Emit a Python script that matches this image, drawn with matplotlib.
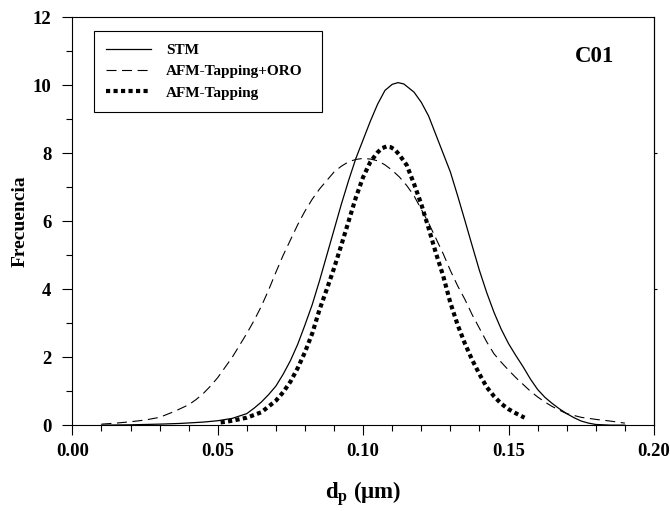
import matplotlib
matplotlib.use('Agg')
import matplotlib.pyplot as plt

plt.rcParams['font.family'] = ['Liberation Serif', 'DejaVu Serif']
plt.rcParams['font.weight'] = 'bold'
plt.rcParams['mathtext.fontset'] = 'custom'
plt.rcParams['mathtext.rm'] = 'Liberation Serif:bold'
plt.rcParams['mathtext.it'] = 'Liberation Serif:bold'
plt.rcParams['mathtext.bf'] = 'Liberation Serif:bold'

# diametro de particula (um) y frecuencia
stm_x = [0.010, 0.020, 0.030, 0.037, 0.045, 0.050, 0.055, 0.060, 0.0625, 0.065,
         0.0675, 0.070, 0.0725, 0.075, 0.0775, 0.080, 0.0825, 0.085, 0.0875, 0.090,
         0.0925, 0.095, 0.0975, 0.100, 0.1025, 0.105, 0.1075, 0.110, 0.112, 0.114,
         0.1175, 0.120, 0.1225, 0.125, 0.1275, 0.130, 0.1325, 0.135, 0.1375, 0.140,
         0.1425, 0.145, 0.1475, 0.150, 0.1525, 0.155, 0.1575, 0.160, 0.1625, 0.165,
         0.1675, 0.170, 0.1725, 0.175, 0.1775, 0.180, 0.185, 0.190]
stm_y = [0.00, 0.01, 0.03, 0.05, 0.09, 0.13, 0.20, 0.34, 0.50, 0.68,
         0.90, 1.15, 1.50, 1.90, 2.38, 2.95, 3.55, 4.25, 5.00, 5.75,
         6.50, 7.20, 7.85, 8.40, 8.95, 9.45, 9.85, 10.03, 10.08, 10.04,
         9.80, 9.50, 9.10, 8.55, 8.00, 7.45, 6.75, 6.02, 5.28, 4.55,
         3.90, 3.32, 2.82, 2.40, 2.05, 1.72, 1.36, 1.05, 0.82, 0.64,
         0.48, 0.34, 0.22, 0.12, 0.06, 0.02, 0.00, 0.00]

oro_x = [0.010, 0.015, 0.020, 0.025, 0.030, 0.035, 0.040, 0.0425, 0.045, 0.0475,
         0.050, 0.0525, 0.055, 0.0575, 0.060, 0.0625, 0.065, 0.0675, 0.070, 0.0725,
         0.075, 0.0775, 0.080, 0.0825, 0.085, 0.0875, 0.090, 0.0925, 0.095, 0.0975,
         0.100, 0.1025, 0.105, 0.1075, 0.110, 0.1125, 0.115, 0.1175, 0.120, 0.1225,
         0.125, 0.1275, 0.130, 0.1325, 0.135, 0.1375, 0.140, 0.1425, 0.145, 0.1475,
         0.150, 0.1525, 0.155, 0.1575, 0.160, 0.1625, 0.165, 0.1675, 0.170, 0.175,
         0.180, 0.185, 0.190]
oro_y = [0.03, 0.06, 0.10, 0.15, 0.23, 0.40, 0.60, 0.75, 0.93, 1.15,
         1.40, 1.70, 2.00, 2.35, 2.70, 3.08, 3.50, 3.98, 4.50, 5.00,
         5.45, 5.90, 6.30, 6.65, 6.95, 7.20, 7.45, 7.62, 7.75, 7.82,
         7.85, 7.83, 7.78, 7.66, 7.50, 7.30, 7.05, 6.75, 6.35, 5.95,
         5.50, 5.05, 4.55, 4.10, 3.70, 3.25, 2.85, 2.45, 2.10, 1.85,
         1.62, 1.40, 1.20, 1.00, 0.83, 0.68, 0.55, 0.44, 0.34, 0.23,
         0.17, 0.12, 0.06]

tap_x = [0.051, 0.055, 0.060, 0.065, 0.070, 0.0725, 0.075, 0.0775, 0.080, 0.0825,
         0.085, 0.0875, 0.090, 0.0925, 0.095, 0.0975, 0.100, 0.1025, 0.105, 0.1065,
         0.108, 0.1095, 0.111, 0.1125, 0.115, 0.1175, 0.120, 0.1225, 0.125, 0.1275,
         0.130, 0.1325, 0.135, 0.1375, 0.140, 0.1425, 0.145, 0.1475, 0.150, 0.1525,
         0.1555]
tap_y = [0.08, 0.13, 0.22, 0.38, 0.72, 0.97, 1.28, 1.68, 2.15, 2.70,
         3.40, 4.00, 4.62, 5.30, 6.00, 6.70, 7.30, 7.75, 8.03, 8.15,
         8.20, 8.18, 8.10, 7.95, 7.65, 7.10, 6.50, 5.80, 5.07, 4.40,
         3.60, 2.95, 2.40, 1.92, 1.50, 1.12, 0.85, 0.63, 0.47, 0.35,
         0.22]

fig = plt.figure(figsize=(6.70, 5.11), dpi=100)
ax = fig.add_axes([0.108, 0.168, 0.868, 0.798])

ax.plot(stm_x, stm_y, color='black', lw=0.9, label='STM')
ax.plot(oro_x, oro_y, color='black', lw=0.8, linestyle=(0, (9, 5)),
        label='AFM-Tapping+ORO')
ax.plot(tap_x, tap_y, color='black', lw=3.0, linestyle=(0, (1, 0.8)),
        label='AFM-Tapping')

ax.set_xlim(0, 0.20)
ax.set_ylim(0, 12)
ax.set_xticks([0.00, 0.05, 0.10, 0.15, 0.20])
ax.set_xticklabels(['0.00', '0.05', '0.10', '0.15', '0.20'])
ax.set_xticks([i / 100 for i in range(1, 20)], minor=True)
ax.set_yticks(range(0, 13, 2))
ax.set_yticks(range(1, 13, 2), minor=True)
ax.tick_params(axis='x', which='major', length=7.5, width=0.8, direction='out',
               labelsize=13.5, pad=5, top=False)
ax.tick_params(axis='y', which='major', length=7.5, width=0.8, direction='out',
               labelsize=13.5, pad=7.5, right=False)
ax.tick_params(which='minor', length=4.5, width=0.8, direction='out',
               top=False, right=False)
for lbl in ax.get_xticklabels() + ax.get_yticklabels():
    lbl.set_fontweight('bold')
for s in ax.spines.values():
    s.set_linewidth(0.8)

sec = ax.secondary_yaxis('right')
sec.set_yticks([4, 8])
sec.set_yticklabels(['', ''])
sec.tick_params(length=2.5, width=0.8, direction='out')
sec.spines['right'].set_linewidth(0.8)

ax.set_ylabel('Frecuencia', fontsize=14, fontweight='bold', labelpad=3)
ax.set_xlabel(r'$\mathbf{d_p}$ (μm)', fontsize=16.5, fontweight='bold', labelpad=14)

ax.text(0.897, 0.905, 'C01', transform=ax.transAxes, fontsize=16.5,
        fontweight='bold', ha='center', va='center')

leg = ax.legend(loc='upper left', bbox_to_anchor=(0.0373, 0.675, 0.392, 0.291),
                mode='expand', borderaxespad=0, fancybox=False, framealpha=1,
                edgecolor='black', prop={'size': 11, 'weight': 'bold'},
                handlelength=2.9, handletextpad=1.0, labelspacing=0.5,
                borderpad=0.8)
leg.get_frame().set_linewidth(0.8)

fig.savefig('out.png', dpi=100)
